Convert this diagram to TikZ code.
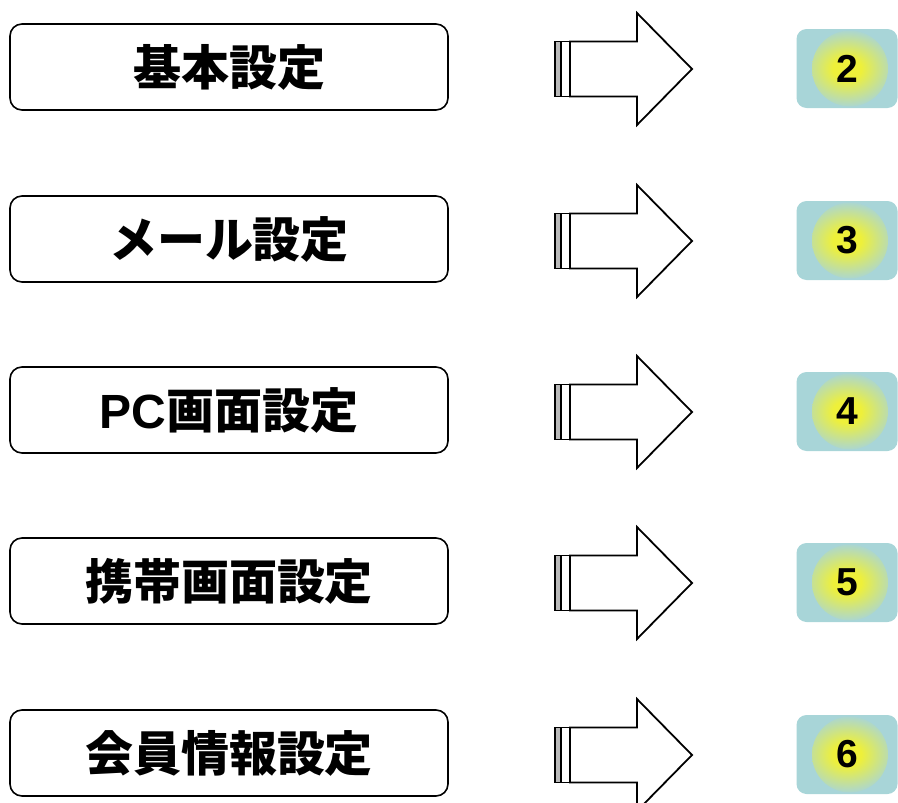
\documentclass[tikz,border=0pt]{standalone}
\usepackage{fontspec}
\setmainfont{Liberation Sans}
\newfontfamily\jpfont{Noto Sans CJK JP}
\usetikzlibrary{calc}
\definecolor{badge}{HTML}{A8D5D8}
\definecolor{glow}{HTML}{EEF03A}
\pgfdeclareradialshading{badgeglow}{\pgfpoint{0bp}{0bp}}{color(0bp)=(glow); color(7bp)=(glow); color(25bp)=(badge); color(50bp)=(badge)}
\tikzset{
  menubox/.style={draw=black, line width=1.6pt, rounded corners=12pt, minimum width=438pt, minimum height=86pt, inner sep=0pt, font=\jpfont\bfseries\fontsize{48}{52}\selectfont},
  pagebadge/.style={fill=badge, rounded corners=10pt, minimum width=101pt, minimum height=79pt, inner sep=0pt, font=\bfseries\fontsize{39}{42}\selectfont,
    path picture={\shade[shading=badgeglow] ([xshift=3pt]path picture bounding box.center) circle (38pt);}},
  blockarrow/.style={draw=black, line width=1.8pt, fill=white, line join=miter}
}
\newcommand{\StripeArrow}[1]{% centre y of the arrow
  \draw[blockarrow, fill=gray!55] (555,#1-27.5) rectangle (561,#1+27.5);
  \draw[blockarrow] (561,#1-27.5) rectangle (570,#1+27.5);
  \draw[blockarrow] (570,#1-27.5) -- (637,#1-27.5) -- (637,#1-56) -- (692,#1)
    -- (637,#1+56) -- (637,#1+27.5) -- (570,#1+27.5) -- cycle;
}

\begin{document}
\begin{tikzpicture}[x=1pt,y=-1pt]
  \useasboundingbox (0,0) rectangle (898,803);
  \clip (0,0) rectangle (898,803);
  % menu boxes
  \node[menubox] (basic) at (229,67) {基本設定};
  \node[menubox] (mail) at (229,239) {メール設定};
  \node[menubox] (pc) at (229,410) {{\rmfamily PC}画面設定};
  \node[menubox] (mobile) at (229,581) {携帯画面設定};
  \node[menubox] (member) at (229,753) {会員情報設定};
  % arrows
  \StripeArrow{69}
  \StripeArrow{241}
  \StripeArrow{412}
  \StripeArrow{583}
  \StripeArrow{755}
  % page badges
  \node[pagebadge] (pg2) at (847,68.5) {\raisebox{-2pt}{2}};
  \node[pagebadge] (pg3) at (847,240.5) {\raisebox{-2pt}{3}};
  \node[pagebadge] (pg4) at (847,411.5) {\raisebox{-2pt}{4}};
  \node[pagebadge] (pg5) at (847,582.5) {\raisebox{-2pt}{5}};
  \node[pagebadge] (pg6) at (847,754.5) {\raisebox{-2pt}{6}};
\end{tikzpicture}
\end{document}
